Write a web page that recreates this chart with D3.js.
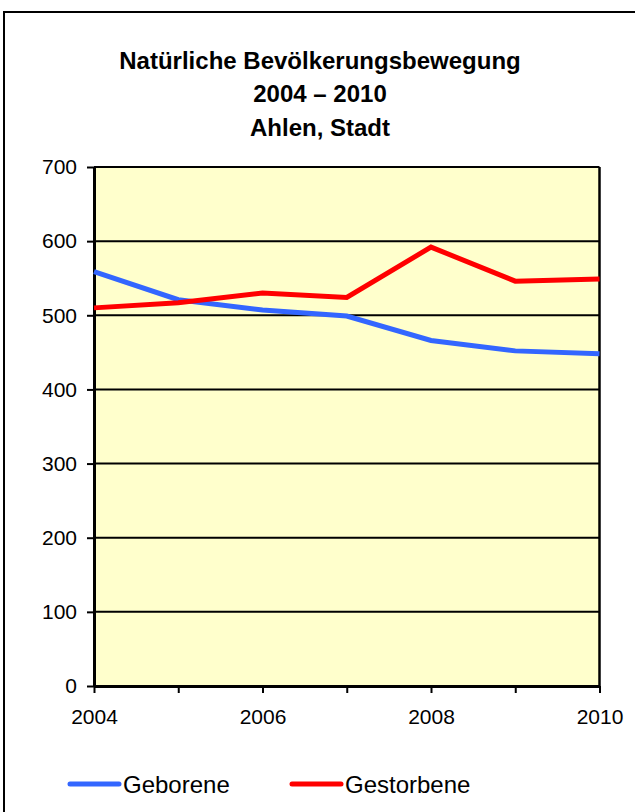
<!DOCTYPE html>
<html>
<head>
<meta charset="utf-8">
<script src="https://d3js.org/d3.v7.min.js"></script>
<style>
  body { margin: 0; background: #fff; }
  text { font-family: "Liberation Sans", Arial, sans-serif; fill: #000; }
</style>
</head>
<body>
<div id="chart"></div>
<script>
// Data
var years = [2004, 2005, 2006, 2007, 2008, 2009, 2010];
var geborene = [559, 521, 507, 499, 466, 452, 448];
var gestorbene = [510, 517, 530, 524, 592, 546, 549];
var yTicks = [0, 100, 200, 300, 400, 500, 600, 700];
var xTickLabels = [2004, 2006, 2008, 2010];
var titleLines = ["Natürliche Bevölkerungsbewegung", "2004 – 2010", "Ahlen, Stadt"];

var svgWidth = 635;
var svgHeight = 812;

var margin = { top: 167, right: 35, bottom: 126, left: 94 };
var width = 599.5 - margin.left;
var height = 686 - margin.top;

var svg = d3.select("#chart")
    .append("svg")
    .attr("width", svgWidth)
    .attr("height", svgHeight);

// outer frame (cut off at right and bottom like the source)
svg.append("rect")
    .attr("x", 4)
    .attr("y", 12)
    .attr("width", 700)
    .attr("height", 900)
    .attr("fill", "none")
    .attr("stroke", "#000")
    .attr("stroke-width", 2);

// title
svg.append("g").selectAll("text")
    .data(titleLines)
    .enter()
    .append("text")
    .attr("x", 320)
    .attr("y", (d, i) => 68.5 + i * 33.5)
    .attr("text-anchor", "middle")
    .attr("font-size", "24px")
    .attr("font-weight", "bold")
    .text(d => d);

var chartGroup = svg.append("g")
    .attr("transform", `translate(${margin.left}, ${margin.top})`);

var xScale = d3.scaleLinear()
    .domain([2004, 2010])
    .range([0, width]);

var yScale = d3.scaleLinear()
    .domain([0, 700])
    .range([height, 0]);

// plot background
chartGroup.append("rect")
    .attr("width", width)
    .attr("height", height)
    .attr("fill", "#FFFFCC");

// gridlines
chartGroup.append("g").selectAll("line")
    .data(yTicks.filter(d => d > 0))
    .enter()
    .append("line")
    .attr("x1", 0)
    .attr("x2", width)
    .attr("y1", d => yScale(d))
    .attr("y2", d => yScale(d))
    .attr("stroke", "#000")
    .attr("stroke-width", 2);

// right border of plot
chartGroup.append("line")
    .attr("x1", width).attr("x2", width)
    .attr("y1", 0).attr("y2", height)
    .attr("stroke", "#000")
    .attr("stroke-width", 2.5);

// axes
var leftAxis = d3.axisLeft(yScale)
    .tickValues(yTicks)
    .tickSize(7)
    .tickSizeOuter(0)
    .tickPadding(10);

var bottomAxis = d3.axisBottom(xScale)
    .tickValues(years)
    .tickSize(7)
    .tickSizeOuter(0)
    .tickPadding(16)
    .tickFormat(d => xTickLabels.includes(d) ? d : "");

var yAxisG = chartGroup.append("g").call(leftAxis);
var xAxisG = chartGroup.append("g")
    .attr("transform", `translate(0, ${height})`)
    .call(bottomAxis);

[yAxisG, xAxisG].forEach(function(g) {
    g.select(".domain").attr("stroke", "#000").attr("stroke-width", 3);
    g.selectAll(".tick line").attr("stroke", "#000").attr("stroke-width", 2);
    g.selectAll(".tick text")
        .attr("font-family", "Liberation Sans, Arial, sans-serif")
        .attr("font-size", "21px")
        .attr("fill", "#000");
});

// lines
var line = d3.line()
    .x((d, i) => xScale(years[i]))
    .y(d => yScale(d));

chartGroup.append("path")
    .datum(geborene)
    .attr("d", line)
    .attr("fill", "none")
    .attr("stroke", "#3366FF")
    .attr("stroke-width", 5);

chartGroup.append("path")
    .datum(gestorbene)
    .attr("d", line)
    .attr("fill", "none")
    .attr("stroke", "#FF0000")
    .attr("stroke-width", 5);

// legend
var legendItems = [
    { name: "Geborene", color: "#3366FF", x: 70 },
    { name: "Gestorbene", color: "#FF0000", x: 292 }
];

var legend = svg.append("g").selectAll("g")
    .data(legendItems)
    .enter()
    .append("g")
    .attr("transform", d => `translate(${d.x}, 784)`);

legend.append("line")
    .attr("x1", 0).attr("x2", 49)
    .attr("y1", 0).attr("y2", 0)
    .attr("stroke", d => d.color)
    .attr("stroke-width", 5)
    .attr("stroke-linecap", "round");

legend.append("text")
    .attr("x", 53)
    .attr("y", 9)
    .attr("font-size", "24px")
    .text(d => d.name);
</script>
</body>
</html>
